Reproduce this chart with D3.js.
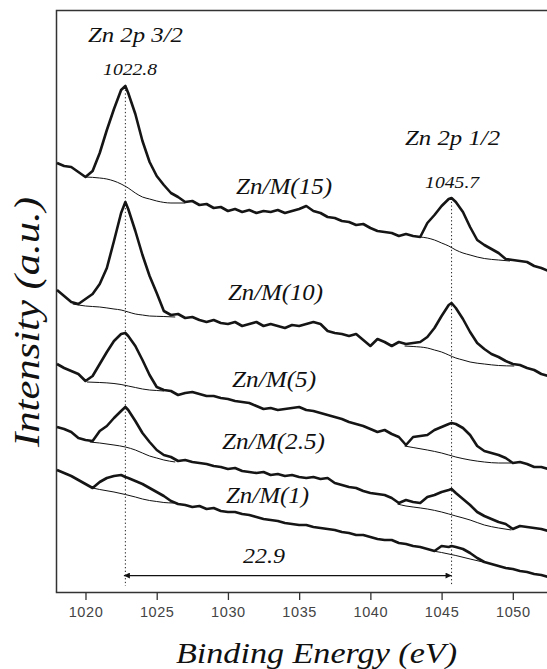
<!DOCTYPE html>
<html>
<head>
<meta charset="utf-8">
<script src="https://cdn.jsdelivr.net/npm/d3@7"></script>
<style>
  body { margin: 0; background: #fff; }
  svg { display: block; }
</style>
</head>
<body>
<script>
// binding energy (eV) of every read-off point
var energy = [1018, 1018.5, 1019, 1019.5, 1020, 1020.5, 1021, 1021.5, 1022, 1022.5, 1022.8, 1023,
  1023.5, 1024, 1024.5, 1025, 1025.5, 1026, 1026.5, 1027, 1027.5, 1028, 1028.5, 1029, 1029.5,
  1030, 1030.5, 1031, 1031.5, 1032, 1032.5, 1033, 1033.5, 1034, 1034.5, 1035, 1035.5, 1036,
  1036.5, 1037, 1037.5, 1038, 1038.5, 1039, 1039.5, 1040, 1040.5, 1041, 1041.5, 1042, 1042.5,
  1043, 1043.5, 1044, 1044.5, 1045, 1045.5, 1045.7, 1046, 1046.5, 1047, 1047.5, 1048, 1048.5,
  1049, 1049.5, 1050, 1050.5, 1051, 1051.5, 1052, 1052.5];

// intensity (a.u., stacked) of each sample
var zn15 = [429, 426, 425, 420, 415, 421, 439, 462, 483, 502, 506, 499,
  478, 451, 430, 416, 407, 399, 395, 390, 391, 387, 388, 384, 385,
  381, 383, 380, 382, 379, 381, 380, 382, 379, 381, 383, 386, 381,
  379, 375, 374, 371, 370, 367, 368, 364, 361, 360, 359, 356, 358,
  356, 355, 369, 377, 386, 393, 394, 390, 380, 365, 352, 347, 343,
  339, 333, 332, 331, 330, 326, 324, 321];
var zn10 = [302, 296, 290, 288, 293, 298, 308, 324, 351, 379, 390, 383,
  361, 337, 316, 299, 281, 277, 278, 274, 275, 272, 270, 272, 269,
  268, 270, 266, 268, 270, 266, 268, 266, 264, 267, 266, 268, 270,
  268, 261, 259, 258, 256, 258, 252, 246, 253, 250, 246, 250, 248,
  249, 250, 255, 264, 276, 287, 289, 284, 273, 260, 249, 243, 238,
  235, 231, 228, 227, 224, 222, 218, 216];
var zn5 = [228, 224, 221, 218, 211, 216, 228, 240, 251, 258, 259, 256,
  246, 232, 217, 205, 202, 201, 197, 199, 200, 198, 196, 196, 194,
  193, 191, 190, 189, 186, 183, 184, 182, 183, 184, 185, 182, 181,
  179, 177, 175, 173, 170, 168, 166, 163, 160, 162, 158, 155, 147,
  155, 156, 157, 162, 165, 168, 169, 168, 164, 157, 146, 141, 139,
  137, 134, 129, 130, 128, 125, 125, 123];
var zn2_5 = [165, 163, 160, 154, 152, 151, 161, 166, 174, 181, 185, 182,
  171, 159, 150, 142, 137, 135, 131, 132, 130, 129, 128, 126, 125,
  123, 124, 121, 120, 119, 120, 117, 118, 116, 117, 115, 114, 115,
  113, 114, 109, 107, 105, 104, 101, 99, 98, 97, 94, 89, 92,
  90, 89, 95, 97, 100, 102, 103, 99, 93, 87, 80, 76, 73,
  70, 68, 63, 66, 65, 64, 63, 61];
var zn1 = [122, 119, 116, 112, 108, 104, 110, 114, 116, 117, 115, 114,
  111, 108, 104, 100, 96, 91, 88, 87, 85, 86, 83, 84, 81,
  80, 80, 78, 77, 75, 73, 72, 71, 69, 68, 67, 67, 65,
  64, 63, 62, 60, 59, 57, 57, 55, 53, 52, 52, 49, 48,
  46, 45, 43, 41, 46, 45, 46, 45, 43, 39, 34, 30, 28,
  26, 24, 23, 21, 20, 18, 17, 15];

// fitted backgrounds under the peaks: [energy, intensity]
var bg15a = [[1020, 415], [1021, 414], [1021.5, 413], [1022, 411], [1022.5, 408], [1023, 404],
  [1023.5, 399], [1024, 395], [1024.5, 393], [1025, 391], [1026, 389], [1027, 389]];
var bg15b = [[1043.5, 355], [1044, 354], [1044.5, 352], [1045, 349], [1045.5, 346], [1046, 342],
  [1046.5, 339], [1047, 337], [1047.5, 335], [1048, 333.5], [1049, 332], [1049.8, 331]];
var bg10a = [[1019.1, 288], [1020, 286], [1021, 285], [1022, 283], [1022.5, 282], [1023, 280],
  [1023.5, 278], [1024, 277], [1024.5, 276], [1025.5, 275.5], [1026.3, 275]];
var bg10b = [[1042.4, 246], [1043, 245.5], [1044, 244], [1044.5, 242], [1045, 240], [1045.5, 237],
  [1046, 234], [1046.5, 232], [1047, 230], [1048, 228], [1049, 226.5], [1050.1, 226]];
var bg5a = [[1020.1, 210], [1021, 209.5], [1022, 208.5], [1022.5, 207.5], [1023, 206],
  [1023.5, 204.5], [1024, 203], [1024.5, 202], [1025, 201.5], [1025.5, 201]];
var bg5b = [[1042.4, 146], [1043, 144.5], [1044, 142], [1045, 139], [1046, 135], [1047, 132],
  [1048, 130], [1049, 129], [1049.9, 129]];
var bg2_5a = [[1020.3, 150], [1021, 149], [1022, 147], [1022.8, 145], [1023.5, 142], [1024, 139],
  [1024.5, 136], [1025, 134], [1025.5, 132], [1026.3, 130]];
var bg2_5b = [[1041.9, 88], [1042.5, 86], [1043, 85], [1044, 83], [1045, 80], [1046, 76],
  [1047, 72], [1048, 67], [1049, 64], [1049.9, 62]];
var bg1a = [[1020.5, 104], [1021, 102.5], [1022, 100], [1022.8, 97.5], [1023.5, 95], [1024, 93],
  [1024.5, 91.5], [1025, 90.5], [1025.5, 89.5], [1026.2, 89]];
var bg1b = [[1044.4, 41], [1045, 39.5], [1046, 36.5], [1047, 33], [1047.9, 30]];

var seriesNames = ["Zn/M(15)", "Zn/M(10)", "Zn/M(5)", "Zn/M(2.5)", "Zn/M(1)"];
var peakNames = ["Zn 2p 3/2", "Zn 2p 1/2"];
var peakPos = [1022.8, 1045.7];
var splitting = "22.9";
var xTicks = [1020, 1025, 1030, 1035, 1040, 1045, 1050];

var spectra = [zn15, zn10, zn5, zn2_5, zn1];
var backgrounds = [bg15a, bg15b, bg10a, bg10b, bg5a, bg5b, bg2_5a, bg2_5b, bg1a, bg1b];

// chart size
var W = 547, H = 669;
var plot = { left: 57, right: 547, top: 10, bottom: 592 };

var svg = d3.select("body").append("svg")
  .attr("width", W)
  .attr("height", H);

var x = d3.scaleLinear().domain([1018, 1052.4]).range([plot.left, plot.right]);
var y = d3.scaleLinear().domain([0, 582]).range([plot.bottom, plot.top]);

var serif = "'Liberation Serif', 'Times New Roman', serif";

// frame: left and top borders
svg.append("path")
  .attr("d", "M" + (plot.left - 0.5) + "," + plot.bottom + "V" + (plot.top + 0.5) + "H" + W)
  .attr("fill", "none")
  .attr("stroke", "#333")
  .attr("stroke-width", 1.5);

// x axis
var xAxis = svg.append("g")
  .attr("transform", "translate(0," + plot.bottom + ")")
  .call(d3.axisBottom(x).tickValues(xTicks).tickSize(8).tickSizeOuter(0).tickPadding(7)
    .tickFormat(d3.format("d")));
xAxis.select(".domain").attr("stroke", "#333").attr("stroke-width", 1.5)
  .attr("d", "M" + (plot.left - 1.25) + ",0.5H" + W);
xAxis.selectAll(".tick line").attr("stroke", "#333").attr("stroke-width", 1.3);
xAxis.selectAll(".tick text")
  .attr("fill", "#444")
  .style("font-family", "'Liberation Sans', Arial, sans-serif")
  .style("font-size", "14.5px")
  .style("letter-spacing", "0.6px");

// dotted guide lines at the peak positions
peakPos.forEach(function (p) {
  var top = zn15[energy.indexOf(p)];
  svg.append("line")
    .attr("x1", x(p)).attr("x2", x(p))
    .attr("y1", y(top)).attr("y2", y(6))
    .attr("stroke", "#222")
    .attr("stroke-width", 1)
    .attr("stroke-dasharray", "1.3,2.4");
});

var line = d3.line()
  .x(function (d) { return x(d[0]); })
  .y(function (d) { return y(d[1]); });

// backgrounds (thin)
backgrounds.forEach(function (b) {
  svg.append("path")
    .datum(b)
    .attr("d", line.curve(d3.curveMonotoneX))
    .attr("fill", "none")
    .attr("stroke", "#111")
    .attr("stroke-width", 1);
});

// spectra (thick, noisy)
line.curve(d3.curveLinear);
spectra.forEach(function (s) {
  svg.append("path")
    .datum(d3.zip(energy, s))
    .attr("d", line)
    .attr("fill", "none")
    .attr("stroke", "#151515")
    .attr("stroke-width", 2.6)
    .attr("stroke-linejoin", "round");
});

// text helper
function label(txt, e, v, size, len) {
  return svg.append("text")
    .attr("x", x(e))
    .attr("y", y(v))
    .attr("text-anchor", "middle")
    .attr("textLength", len)
    .attr("lengthAdjust", "spacingAndGlyphs")
    .style("font-family", serif)
    .style("font-style", "italic")
    .style("font-size", size + "px")
    .attr("fill", "#111")
    .text(txt);
}

// peak names and positions
label(peakNames[0], 1023.51, 550, 21, 95);
label(peakNames[1], 1045.77, 447, 21, 95);
label(String(peakPos[0]), 1023.13, 517, 17, 54);
label(String(peakPos[1]), 1045.74, 404, 17, 54);

// series labels
var seriesAt = [[1033.94, 398, 96], [1033.34, 292, 95], [1033.24, 205, 84], [1033.2, 143, 103], [1032.78, 89, 83]];
seriesNames.forEach(function (n, i) {
  label(n, seriesAt[i][0], seriesAt[i][1], 23, seriesAt[i][2]);
});

// spin-orbit splitting arrow
var defs = svg.append("defs");
defs.append("marker")
  .attr("id", "head")
  .attr("viewBox", "0 -5 10 10")
  .attr("refX", 10).attr("refY", 0)
  .attr("markerWidth", 10).attr("markerHeight", 6)
  .attr("markerUnits", "userSpaceOnUse")
  .attr("orient", "auto-start-reverse")
  .append("path")
  .attr("d", "M0,-5L10,0L0,5Z")
  .attr("fill", "#111");

svg.append("line")
  .attr("x1", x(peakPos[0]) - 1.5).attr("x2", x(peakPos[1]))
  .attr("y1", y(16.4)).attr("y2", y(16.4))
  .attr("stroke", "#111")
  .attr("stroke-width", 1.2)
  .attr("marker-start", "url(#head)")
  .attr("marker-end", "url(#head)");

label(splitting, 1032.54, 29, 21, 42);

// axis titles
svg.append("text")
  .attr("x", 316.5).attr("y", 663)
  .attr("text-anchor", "middle")
  .attr("textLength", 281)
  .attr("lengthAdjust", "spacingAndGlyphs")
  .style("font-family", serif)
  .style("font-style", "italic")
  .style("font-size", "30px")
  .attr("fill", "#111")
  .text("Binding Energy (eV)");

svg.append("text")
  .attr("transform", "translate(39,322) rotate(-90)")
  .attr("text-anchor", "middle")
  .attr("textLength", 250)
  .attr("lengthAdjust", "spacingAndGlyphs")
  .style("font-family", serif)
  .style("font-style", "italic")
  .style("font-size", "36px")
  .attr("fill", "#111")
  .text("Intensity (a.u.)");
</script>
</body>
</html>
